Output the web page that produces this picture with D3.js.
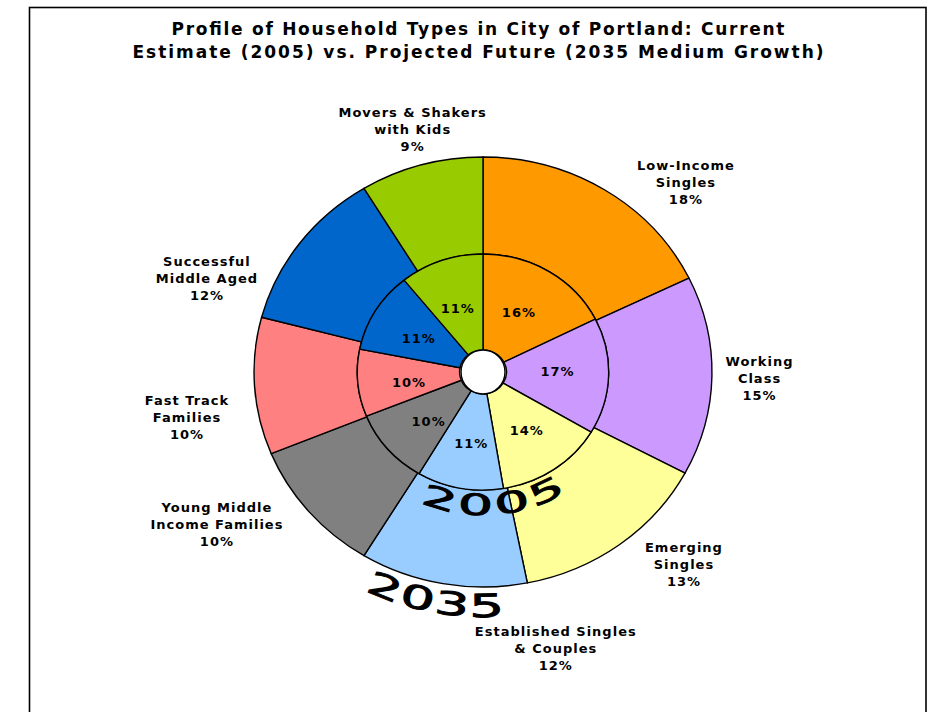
<!DOCTYPE html>
<html><head><meta charset="utf-8">
<script src="https://cdn.jsdelivr.net/npm/d3@7/dist/d3.min.js"></script>
<style>body{margin:0;background:#fff}svg{display:block}</style>
</head><body>
<svg id="chart" width="932" height="712"></svg>
<script>
// ---- data ----
const categories = ["Low-Income Singles", "Working Class", "Emerging Singles", "Established Singles & Couples",
  "Young Middle Income Families", "Fast Track Families", "Successful Middle Aged", "Movers & Shakers with Kids"];
const labelLines = [["Low-Income", "Singles"], ["Working", "Class"], ["Emerging", "Singles"], ["Established Singles", "& Couples"],
  ["Young Middle", "Income Families"], ["Fast Track", "Families"], ["Successful", "Middle Aged"], ["Movers & Shakers", "with Kids"]];
// wedge sizes as drawn (percent)
const values2035 = [17.8, 15.0, 14.1, 11.8, 10.1, 10.3, 12.2, 8.7];
const values2005 = [17.6, 15.9, 13.9, 11.1, 10.4, 9.2, 11.1, 10.8];
// printed data labels (percent)
const labels2035 = [18, 15, 13, 12, 10, 10, 12, 9];
const labels2005 = [16, 17, 14, 11, 10, 10, 11, 11];
const colors = ["#FF9900", "#CC99FF", "#FFFF99", "#99CCFF", "#808080", "#FF8080", "#0066CC", "#99CC00"];
const titleLines = ["Profile of Household Types in City of Portland: Current",
  "Estimate (2005) vs. Projected Future (2035 Medium Growth)"];
const ringNames = ["2005", "2035"];

// ---- layout ----
const cx = 483, cy = 372, sx = 1.065;
const rHole = 22, rMid = 118, rOuter = 215;
const titleWidths = [613, 691];
// outer label block centres: [angle deg clockwise from top, distance]
const outerLabelPolar = [[45.1, 269], [91.3, 259.7], [135.5, 269.2], [166.1, 284.4], [238.6, 292.7], [260.7, 281.6], [289.8, 275.5], [344.8, 251.9]];
const FONT = "'DejaVu Sans', Verdana, sans-serif";

const svg = d3.select("#chart");
svg.append("rect").attr("x", 29.5).attr("y", 7.5).attr("width", 896.5).attr("height", 720)
  .attr("fill", "#fff").attr("stroke", "#000").attr("stroke-width", 1.6);

// title
svg.append("g").selectAll("text").data(titleLines).join("text")
  .attr("x", 478).attr("y", (d, i) => 34.5 + i * 23)
  .attr("text-anchor", "middle").attr("font-family", FONT).attr("font-weight", "bold")
  .attr("font-size", 17).attr("textLength", (d, i) => titleWidths[i]).attr("lengthAdjust", "spacing")
  .attr("fill", "#000").text(d => d);

const pie = d3.pie().sort(null).value(d => d);
const outerArcs = pie(values2035), innerArcs = pie(values2005);
const arcOuter = d3.arc().innerRadius(rMid).outerRadius(rOuter);
const arcInner = d3.arc().innerRadius(rHole).outerRadius(rMid);

const g = svg.append("g").attr("transform", `translate(${cx},${cy}) scale(${sx},1)`);
g.selectAll("path.outer").data(outerArcs).join("path").attr("class", "outer")
  .attr("d", arcOuter).attr("fill", (d, i) => colors[i])
  .attr("stroke", "#000").attr("stroke-width", 1.4).attr("vector-effect", "non-scaling-stroke").attr("stroke-linejoin", "round");
g.selectAll("path.inner").data(innerArcs).join("path").attr("class", "inner")
  .attr("d", arcInner).attr("fill", (d, i) => colors[i])
  .attr("stroke", "#000").attr("stroke-width", 1.4).attr("vector-effect", "non-scaling-stroke").attr("stroke-linejoin", "round");
svg.append("circle").attr("cx", cx).attr("cy", cy).attr("r", rHole)
  .attr("fill", "#fff").attr("stroke", "#000").attr("stroke-width", 1.4);

// inner data labels (placed at the centroid of the printed-value wedge)
const labelArcs = pie(labels2005);
const arcLab = d3.arc().innerRadius(rHole).outerRadius(rMid);
svg.append("g").selectAll("text").data(labelArcs).join("text")
  .attr("x", d => cx + sx * arcLab.centroid(d)[0])
  .attr("y", d => cy + arcLab.centroid(d)[1] + 6.5)
  .attr("text-anchor", "middle").attr("font-family", FONT).attr("font-weight", "bold")
  .attr("font-size", 13).attr("letter-spacing", 1).attr("fill", "#000")
  .text((d, i) => labels2005[i] + "%");

// outer category labels
const og = svg.append("g");
categories.forEach((c, i) => {
  const [a, dist] = outerLabelPolar[i];
  const rad = a * Math.PI / 180;
  const x = cx + sx * dist * Math.sin(rad), y = cy - dist * Math.cos(rad);
  const lines = labelLines[i].concat([labels2035[i] + "%"]);
  og.append("text").attr("font-family", FONT).attr("font-weight", "bold").attr("font-size", 13)
    .attr("letter-spacing", 1).attr("fill", "#000").attr("text-anchor", "middle")
    .selectAll("tspan").data(lines).join("tspan")
    .attr("x", x).attr("y", (d, j) => y + (j - 1) * 17 + 4.7).text(d => d);
});

// curved year labels: each glyph placed along an arc below the ring, widened
function curvedText(txt, r, a0, adv, fs, k) {
  const chars = txt.split("");
  const total = chars.length * adv;
  const gg = svg.append("g");
  chars.forEach((ch, j) => {
    const s = (j + 0.5) * adv - total / 2;          // arc-length offset, left to right
    const th = (a0 * Math.PI / 180) - s / r;        // clock angle
    const x = cx + sx * r * Math.sin(th), y = cy - r * Math.cos(th);
    const rot = Math.atan2(-r * Math.sin(th), -sx * r * Math.cos(th)) * 180 / Math.PI;
    gg.append("text").attr("transform", `translate(${x},${y}) rotate(${rot}) scale(${k},1)`)
      .attr("text-anchor", "middle").attr("font-family", FONT).attr("font-size", fs)
      .attr("fill", "#000").attr("stroke", "#000").attr("stroke-width", 0.9).text(ch);
  });
}
curvedText(ringNames[0], 143, 175.7, 36.5, 29, 1.9);
curvedText(ringNames[1], 245, 191.1, 34, 32, 1.7);
</script>
</body></html>
